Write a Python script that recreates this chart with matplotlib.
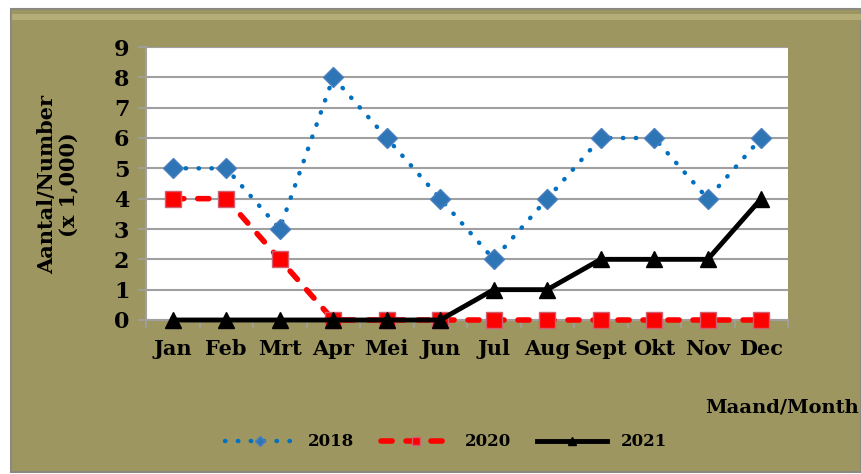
import matplotlib
matplotlib.use("Agg")
import matplotlib.pyplot as plt
from matplotlib.patches import Rectangle

months = ["Jan", "Feb", "Mrt", "Apr", "Mei", "Jun", "Jul", "Aug", "Sept", "Okt", "Nov", "Dec"]
s2018 = [5, 5, 3, 8, 6, 4, 2, 4, 6, 6, 4, 6]
s2020 = [4, 4, 2, 0, 0, 0, 0, 0, 0, 0, 0, 0]
s2021 = [0, 0, 0, 0, 0, 0, 1, 1, 2, 2, 2, 4]
yticks = list(range(0, 10))

W, H = 861, 474
fig = plt.figure(figsize=(W / 100, H / 100), dpi=100, facecolor="white")

olive = "#9E9660"
fig.patches.append(Rectangle((11 / W, 2 / H), (W - 11) / W, (H - 11) / H,
                             transform=fig.transFigure, facecolor=olive,
                             edgecolor="#8a8a80", linewidth=1.5, zorder=-2))
fig.patches.append(Rectangle((12 / W, (H - 20) / H), (W - 12) / W, 6 / H,
                             transform=fig.transFigure, facecolor="#B5AD78",
                             edgecolor="none", zorder=-1))

ax = fig.add_axes([146 / W, 1 - 320 / H, (788 - 146) / W, (320 - 47) / H])
ax.set_zorder(2)
ax.set_facecolor("white")

x = list(range(len(months)))
font = dict(family="DejaVu Serif", weight="bold")

ax.plot(x, s2018, linestyle=(0, (0.1, 2.8)), dash_capstyle="round", color="#0070C0",
        linewidth=3.2, marker="D", markersize=10, markerfacecolor="#2E75B6",
        markeredgecolor="#4A7FC0", zorder=3, label="2018", clip_on=False)
ax.plot(x, s2020, linestyle=(0, (2.0, 2.5)), dash_capstyle="round", color="#FF0000",
        linewidth=4, marker="s", markersize=12, markerfacecolor="#FF0000",
        markeredgecolor="#D06070", zorder=4, label="2020", clip_on=False)
ax.plot(x, s2021, linestyle="-", color="black", linewidth=3.5, marker="^",
        markersize=11, markerfacecolor="black", markeredgecolor="black",
        zorder=5, label="2021", clip_on=False)

ax.set_xlim(-0.5, 11.5)
ax.set_ylim(0, 9)
ax.set_yticks(yticks)
ax.set_yticklabels([str(v) for v in yticks], fontsize=16, **font)
ax.set_xticks(x)
ax.set_xticklabels(months, fontsize=15, **font)
ax.tick_params(axis="x", which="major", length=0, pad=14)
ax.set_xticks([i - 0.5 for i in range(13)], minor=True)
ax.tick_params(axis="x", which="minor", length=6, color="#A0A0A0", width=1.2, direction="out")
ax.tick_params(axis="y", length=6, color="#A0A0A0", width=1.2, pad=6)
ax.grid(axis="y", color="#A0A0A0", linewidth=1.5, zorder=1)
ax.set_axisbelow(True)
for s in ["top", "right"]:
    ax.spines[s].set_visible(False)
for s in ["left", "bottom"]:
    ax.spines[s].set_color("#A0A0A0")
    ax.spines[s].set_linewidth(1.5)

fig.text(58 / W, 1 - 185 / H, "Aantal/Number\n(x 1,000)", rotation=90,
         ha="center", va="center", fontsize=15, linespacing=1.15, **font)
fig.text(782 / W, 1 - 407 / H, "Maand/Month", ha="center", va="center",
         fontsize=14, **font)

leg = fig.legend(loc="center", bbox_to_anchor=(446 / W, 1 - 442 / H), ncol=3,
                 frameon=False, handlelength=4.2, columnspacing=1.6, handletextpad=0.8,
                 prop=dict(family="DejaVu Serif", weight="bold", size=12),
                 markerscale=0.5)

fig.savefig("out.png", dpi=100, facecolor="white")
